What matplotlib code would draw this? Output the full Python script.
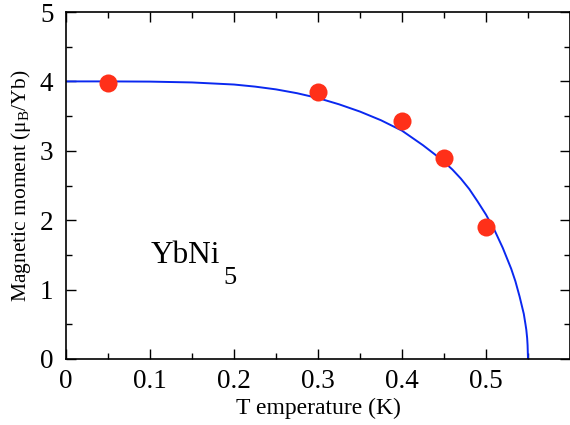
import matplotlib
matplotlib.use("Agg")
import matplotlib.pyplot as plt
from matplotlib.ticker import MultipleLocator

plt.rcParams["font.family"] = ["Liberation Serif", "DejaVu Serif"]
plt.rcParams["mathtext.fontset"] = "custom"
plt.rcParams["mathtext.rm"] = "Liberation Serif"
plt.rcParams["mathtext.it"] = "Liberation Serif:italic"

# measured moments
temp_pts = [0.05, 0.30, 0.40, 0.45, 0.50]
moment_pts = [3.98, 3.85, 3.43, 2.90, 1.90]

# fitted curve
temp_fit = [0.0, 0.05, 0.10, 0.15, 0.20, 0.225, 0.25, 0.275, 0.30, 0.325,
            0.35, 0.375, 0.40, 0.425, 0.44, 0.45, 0.46, 0.47, 0.48, 0.49,
            0.50, 0.51, 0.515, 0.52, 0.525, 0.53, 0.535, 0.54, 0.543,
            0.545, 0.547, 0.548, 0.549, 0.5495, 0.55]
moment_fit = [4.0, 4.0, 3.997, 3.985, 3.955, 3.925, 3.885, 3.83, 3.76, 3.67,
              3.565, 3.44, 3.29, 3.08, 2.94, 2.84, 2.73, 2.60, 2.45, 2.27,
              2.08, 1.86, 1.73, 1.60, 1.45, 1.30, 1.12, 0.90, 0.75,
              0.65, 0.50, 0.42, 0.30, 0.20, 0.0]

fig = plt.figure(figsize=(5.7, 4.25), dpi=100)
ax = fig.add_axes([66 / 570, 66 / 425, 504 / 570, 347 / 425])

ax.plot(temp_fit, moment_fit, color="#0A28F0", linewidth=1.4, zorder=2,
        solid_joinstyle="round")
ax.plot(temp_pts, moment_pts, "o", color="#FF3019", markersize=13,
        markeredgewidth=0, zorder=3)

# compound label, gnuplot-style large subscript
ax.text(0.1005, 1.383, "YbNi", fontsize=22.5, va="baseline")
ax.text(0.1875, 1.08, "5", fontsize=19, va="baseline")

ax.set_xlim(0, 0.6)
ax.set_ylim(0, 5)
ax.xaxis.set_major_locator(MultipleLocator(0.1))
ax.xaxis.set_minor_locator(MultipleLocator(0.05))
ax.yaxis.set_major_locator(MultipleLocator(1))
ax.yaxis.set_minor_locator(MultipleLocator(0.5))
ax.set_xticks([0, 0.1, 0.2, 0.3, 0.4, 0.5])
ax.set_xticklabels(["0", "0.1", "0.2", "0.3", "0.4", "0.5"])
ax.tick_params(which="both", direction="in", top=True, right=True,
               labelsize=19.5, width=1.0)
ax.tick_params(which="major", length=7)
ax.tick_params(which="minor", length=4)
ax.tick_params(axis="x", which="major", pad=7)
ax.tick_params(axis="y", which="major", pad=9)
for s in ax.spines.values():
    s.set_linewidth(1.2)

ax.set_xlabel("T emperature (K)", fontsize=17, labelpad=3)
ax.set_ylabel(r"Magnetic moment ($\mathregular{\mu_B}$/Yb)", fontsize=15.5,
              labelpad=5)

fig.savefig("out.png", dpi=100)
